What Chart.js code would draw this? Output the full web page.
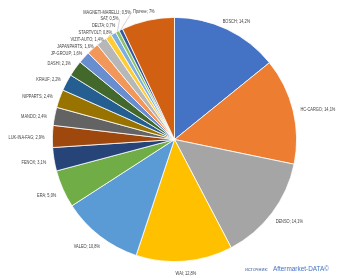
<!DOCTYPE html>
<html>
<head>
<meta charset="utf-8">
<script src="https://cdn.jsdelivr.net/npm/chart.js@4/dist/chart.umd.min.js"></script>
<style>
  html, body { margin: 0; padding: 0; background: #fff; }
  #wrap { position: relative; width: 346px; height: 278px; }
</style>
</head>
<body>
<div id="wrap"><canvas id="chartPie" width="346" height="278"></canvas></div>
<script>
/* ─────────────────────────────────────────
   DATOS
───────────────────────────────────────── */
const marcas = [
  "BOSCH", "HC-CARGO", "DENSO", "WAI", "VALEO", "ERA", "FENOX", "LUK-INA-FAG",
  "MANDO", "NIPPARTS", "KRAUF", "DASHI", "JP-GROUP", "JAPANPARTS", "VIZIT-AUTO",
  "STARTVOLT", "DELTA", "SAT", "MAGNETI-MARELLI", "Прочие"
];
const cuotas = [
  14.2, 14.1, 14.1, 12.8, 10.8, 5.0, 3.1, 2.9,
  2.4, 2.4, 2.2, 2.1, 1.6, 1.6, 1.4,
  0.8, 0.7, 0.5, 0.5, 7
];
const colores = [
  "#4472C4", "#ED7D31", "#A5A5A5", "#FFC000", "#5B9BD5", "#70AD47", "#264478", "#9E480E",
  "#636363", "#997300", "#255E91", "#43682B", "#698ED0", "#F1975A", "#B7B7B7",
  "#FFCD33", "#7CAFDD", "#8CC168", "#335AA1", "#D26012"
];
// en el original "Прочие" va sin decimal
const sinDecimal = ["Прочие"];
const fuente = "источник:";
const fuenteMarca = "Aftermarket-DATA©";

function fmt(v, nombre) {
  const s = sinDecimal.includes(nombre) ? String(v) : v.toFixed(1);
  return s.replace(".", ",") + "%";
}

/* ─────────────────────────────────────────
   ETIQUETAS EXTERIORES (estilo Excel)
───────────────────────────────────────── */
const ESCALA_X = 0.86; // letra estrecha tipo Calibri

const etiquetasPlugin = {
  id: "etiquetas",
  afterDraw(chart) {
    const ctx = chart.ctx;
    const arcs = chart.getDatasetMeta(0).data;
    ctx.save();
    ctx.font = "4.6px 'Liberation Sans', sans-serif";
    ctx.textBaseline = "middle";
    const h = 5.6;
    const paso = 7;

    // 1. posición natural de cada etiqueta
    const etiquetas = arcs.map((arc, i) => {
      const { x, y, startAngle, endAngle, outerRadius } = arc.getProps(
        ["x", "y", "startAngle", "endAngle", "outerRadius"], true);
      const mid = (startAngle + endAngle) / 2;
      const cos = Math.cos(mid), sin = Math.sin(mid);
      const r = outerRadius + 8;
      const ax = x + cos * r, ay = y + sin * r;
      const texto = marcas[i] + "; " + fmt(cuotas[i], marcas[i]);
      const w = ctx.measureText(texto).width * ESCALA_X;
      const cy0 = ay + sin * h / 2 + 2;
      return {
        texto, w, cos, cy0, cy: cy0,
        left: ax - w * (1 - cos) / 2,
        ex: x + cos * outerRadius, ey: y + sin * outerRadius
      };
    });

    // 2. separar las que se solapan, manteniendo el orden horario
    //    (a la izquierda el orden sube, a la derecha baja)
    for (let it = 0; it < 100; it++) {
      let cambio = false;
      for (let a = 0; a < etiquetas.length; a++) {
        for (let b = a + 1; b < etiquetas.length; b++) {
          const A = etiquetas[a], B = etiquetas[b];
          if ((A.cos < 0) !== (B.cos < 0)) continue;
          const overlapX = A.left < B.left + B.w + 1 && A.left + A.w + 1 > B.left;
          if (!overlapX) continue;
          const s = A.cos < 0 ? -1 : 1;
          const d = s * (B.cy - A.cy);
          if (d >= paso - 0.05) continue;
          const falta = (paso - d) / 2;
          A.cy -= s * falta;
          B.cy += s * falta;
          cambio = true;
        }
      }
      if (!cambio) break;
    }

    // 3. dibujar
    etiquetas.forEach(e => {
      if (Math.abs(e.cy - e.cy0) > 2) {
        const lx = e.cos < 0 ? e.left + e.w + 1 : e.left - 1;
        ctx.strokeStyle = "#A6A6A6";
        ctx.lineWidth = 0.5;
        ctx.beginPath();
        ctx.moveTo(lx, e.cy);
        ctx.lineTo(e.ex, e.ey);
        ctx.stroke();
      }
      ctx.save();
      ctx.translate(e.left, e.cy);
      ctx.scale(ESCALA_X, 1);
      ctx.fillStyle = "#404040";
      ctx.textAlign = "left";
      ctx.fillText(e.texto, 0, 0);
      ctx.restore();
    });

    // fuente
    ctx.textAlign = "left";
    ctx.fillStyle = "#4F6FA8";
    ctx.font = "5.3px 'Liberation Sans', sans-serif";
    ctx.fillText(fuente, 245, 269.5);
    ctx.fillStyle = "#4472C4";
    ctx.font = "6.4px 'Liberation Sans', sans-serif";
    ctx.fillText(fuenteMarca, 273, 269);
    ctx.restore();
  }
};

/* ─────────────────────────────────────────
   GRÁFICO
───────────────────────────────────────── */
new Chart(document.getElementById("chartPie"), {
  type: "pie",
  data: {
    labels: marcas,
    datasets: [{
      data: cuotas,
      backgroundColor: colores,
      borderColor: "#ffffff",
      borderWidth: 0.8,
    }]
  },
  options: {
    responsive: false,
    animation: false,
    layout: { padding: { left: 52, right: 49, top: 17, bottom: 16 } },
    plugins: {
      legend: { display: false },
      tooltip: { enabled: false }
    }
  },
  plugins: [etiquetasPlugin]
});
</script>
</body>
</html>
